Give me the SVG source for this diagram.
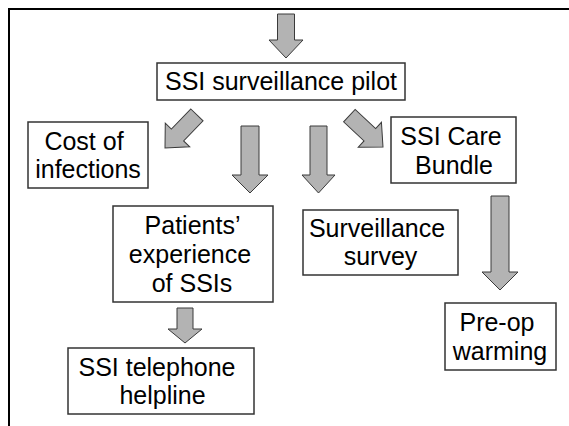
<svg xmlns="http://www.w3.org/2000/svg" width="569" height="426" viewBox="0 0 569 426">
  <style>
    .box { fill: #ffffff; stroke: #333333; stroke-width: 1.5; }
    .lbl { font-family: "Liberation Sans", Arial, sans-serif; font-size: 25px; fill: #000000; text-anchor: middle; }
    .arr { fill: #b3b3b3; stroke: #3a3a3a; stroke-width: 1; stroke-linejoin: miter; }
    .frame { fill: none; stroke: #000000; stroke-width: 2; }
  </style>
  <rect x="0" y="0" width="569" height="426" fill="#ffffff"/>
  <path class="frame" d="M9,426 V9 H569"/>

  <g id="connectors">
    <!-- top incoming arrow -->
    <polygon class="arr" transform="translate(286,58)" points="-8.5,-44 8.5,-44 8.5,-18 17,-18 0,0 -17,-18 -8.5,-18"/>
    <!-- pilot -> cost (diagonal down-left) -->
    <polygon class="arr" transform="translate(165,148) rotate(44)" points="-8.5,-46 8.5,-46 8.5,-18 17,-18 0,0 -17,-18 -8.5,-18"/>
    <!-- pilot -> patients -->
    <polygon class="arr" transform="translate(250,193)" points="-9,-67 9,-67 9,-18 18,-18 0,0 -18,-18 -9,-18"/>
    <!-- pilot -> survey -->
    <polygon class="arr" transform="translate(318.5,193)" points="-8.5,-67 8.5,-67 8.5,-18 16.5,-18 0,0 -16.5,-18 -8.5,-18"/>
    <!-- pilot -> care bundle (diagonal down-right) -->
    <polygon class="arr" transform="translate(383,147) rotate(-47)" points="-8.5,-46 8.5,-46 8.5,-18 17,-18 0,0 -17,-18 -8.5,-18"/>
    <!-- care bundle -> pre-op -->
    <polygon class="arr" transform="translate(500,290)" points="-9,-94 9,-94 9,-18 18,-18 0,0 -18,-18 -9,-18"/>
    <!-- patients -> helpline -->
    <polygon class="arr" transform="translate(185,343)" points="-8,-35 8,-35 8,-14 17,-14 0,0 -17,-14 -8,-14"/>
  </g>

  <g id="pilot">
    <rect class="box" x="157" y="63" width="248" height="37"/>
    <text class="lbl" x="281" y="90">SSI surveillance pilot</text>
  </g>

  <g id="cost">
    <rect class="box" x="28" y="122" width="120" height="66"/>
    <text class="lbl" x="84" y="150">Cost of</text>
    <text class="lbl" x="88" y="178">infections</text>
  </g>

  <g id="care">
    <rect class="box" x="391" y="117" width="125" height="66"/>
    <text class="lbl" x="451" y="145">SSI Care</text>
    <text class="lbl" x="454" y="174">Bundle</text>
  </g>

  <g id="patients">
    <rect class="box" x="113" y="206" width="160" height="96"/>
    <text class="lbl" x="192.5" y="234">Patients’</text>
    <text class="lbl" x="190" y="263">experience</text>
    <text class="lbl" x="192" y="292">of SSIs</text>
  </g>

  <g id="survey">
    <rect class="box" x="303" y="210" width="155" height="65"/>
    <text class="lbl" x="377" y="237">Surveillance</text>
    <text class="lbl" x="380.5" y="265">survey</text>
  </g>

  <g id="helpline">
    <rect class="box" x="68" y="348" width="186" height="66"/>
    <text class="lbl" x="157" y="376">SSI telephone</text>
    <text class="lbl" x="162.5" y="404">helpline</text>
  </g>

  <g id="preop">
    <rect class="box" x="445" y="303" width="111" height="67"/>
    <text class="lbl" x="497" y="331">Pre-op</text>
    <text class="lbl" x="500" y="360">warming</text>
  </g>
</svg>
